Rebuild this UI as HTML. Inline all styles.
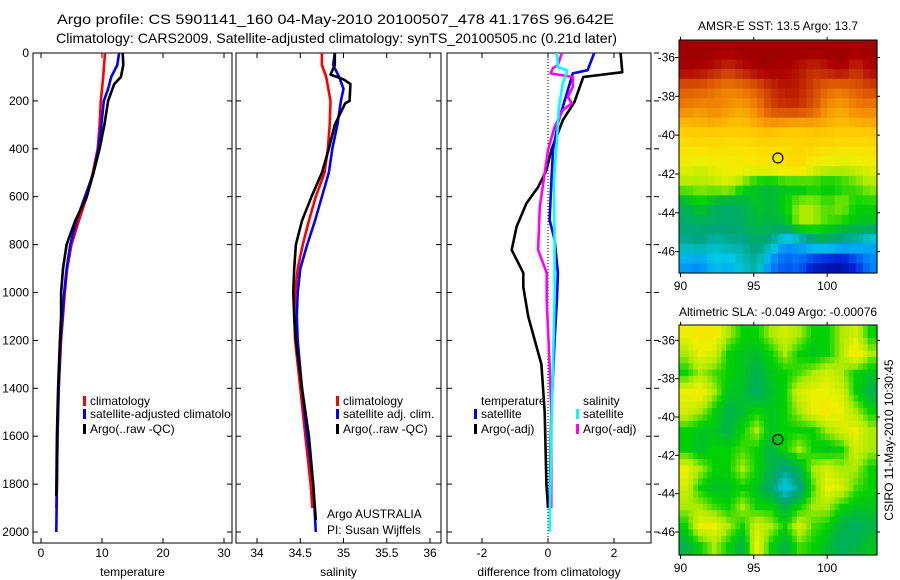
<!DOCTYPE html>
<html><head><meta charset="utf-8">
<style>
html,body{margin:0;padding:0;background:#fff;}
svg{display:block;font-family:"Liberation Sans",sans-serif;}
text{font-size:12px;fill:#000;}
</style></head>
<body>
<svg id="fig" width="900" height="580" viewBox="0 0 900 580">
<text x="57" y="24" textLength="557" lengthAdjust="spacingAndGlyphs" style="font-size:14px">Argo profile: CS 5901141_160 04-May-2010 20100507_478 41.176S 96.642E</text>
<text x="56" y="43" textLength="561" lengthAdjust="spacingAndGlyphs" style="font-size:14px">Climatology: CARS2009. Satellite-adjusted climatology: synTS_20100505.nc (0.21d later)</text>
<text x="778" y="30" text-anchor="middle">AMSR-E SST: 13.5 Argo: 13.7</text>
<text x="778" y="316" text-anchor="middle">Altimetric SLA: -0.049 Argo: -0.00076</text>
<text transform="translate(893,440) rotate(-90)" text-anchor="middle">CSIRO 11-May-2010 10:30:45</text>
<text x="327" y="518">Argo AUSTRALIA</text>
<text x="327" y="534">PI: Susan Wijffels</text>
</svg>
<script>
// ---------- data ----------
const depthTicks=[0,200,400,600,800,1000,1200,1400,1600,1800,2000];
const tempTicks=[0,10,20,30];
const salTicks=[34,34.5,35,35.5,36];
const diffTicks=[-2,0,2];
const tClimDepth=[0,100,200,300,400,500,600,700,800,900,1000,1100,1200,1400,1600,1800,1900];
const tClimVal=[10.5,10.2,9.8,9.6,9.3,8.5,7.5,6.2,5.0,4.3,3.9,3.6,3.3,2.9,2.7,2.6,2.5];
const tSatDepth=[0,50,100,150,200,300,400,500,600,700,800,900,1000,1100,1200,1400,1600,1800,2000];
const tSatVal=[12.8,12.5,11.5,11,10.3,9.9,9.4,8.6,7.2,5.8,4.8,4.2,3.8,3.5,3.2,2.9,2.7,2.6,2.5];
const tArgoDepth=[0,50,100,130,200,300,400,500,600,700,800,900,1000,1100,1200,1400,1600,1850];
const tArgoVal=[13.4,13.5,13.1,12,11,10.4,9.6,8.6,7.5,5.6,4.2,3.6,3.3,3.3,3.1,2.8,2.6,2.5];
const sClimDepth=[0,50,100,200,300,400,500,600,700,800,900,1000,1100,1200,1400,1600,1800,1900];
const sClimVal=[34.75,34.75,34.8,34.85,34.84,34.82,34.78,34.68,34.6,34.53,34.47,34.44,34.43,34.44,34.5,34.56,34.62,34.64];
const sSatDepth=[0,50,100,150,200,300,400,500,600,700,800,900,1000,1100,1200,1400,1600,1800,2000];
const sSatVal=[34.9,34.88,34.95,35.0,34.97,34.93,34.87,34.83,34.75,34.67,34.58,34.5,34.47,34.46,34.47,34.52,34.58,34.65,34.68];
const sArgoDepth=[0,50,90,110,130,200,210,300,400,500,600,700,800,900,1000,1100,1200,1400,1600,1800,1950];
const sArgoVal=[34.9,34.9,34.85,35.0,35.08,35.07,35.02,34.9,34.83,34.75,34.63,34.52,34.45,34.43,34.42,34.43,34.45,34.52,34.6,34.65,34.68];
const dTArgoDepth=[0,80,100,205,280,405,490,560,627,725,822,918,977,1100,1300,1500,1800,1900];
const dTArgoVal=[2.2,2.25,1.07,0.8,0.45,0.1,-0.05,-0.3,-0.65,-0.95,-1.1,-0.75,-0.75,-0.6,-0.2,-0.1,-0.05,0];
const dTSatDepth=[0,72,85,155,293,405,543,697,780,918,1030,1200,1500,1900];
const dTSatVal=[1.4,1.2,0.75,0.6,0.3,0.15,0.1,0.05,0.2,0.3,0.27,0.2,0.1,0.05];
const dSSatDepth=[0,50,58,72,85,125,225,363,543,780,1030,1300,1600,2000];
const dSSatVal=[0.27,0.3,0.27,0.57,0.57,0.45,0.33,0.27,0.18,0.2,0.2,0.15,0.1,0.05];
const dSArgoDepth=[0,50,63,85,100,142,183,210,238,308,405,502,643,822,918,1030,1300,1500,1900];
const dSArgoVal=[0.42,0.3,0.15,0.08,0.75,0.75,0.6,0.72,0.45,0.2,0,-0.1,-0.25,-0.3,-0.04,-0.04,0.05,0.1,0.1];
const mapLonTicks=[90,95,100];
const mapLatTicks=[-36,-38,-40,-42,-44,-46];
const sstGrid=[
[0.97,0.97,0.97,0.96,0.97,0.97,0.97,0.97,0.97,0.97,0.97,0.97,0.96,0.97],
[0.96,0.95,0.93,0.9,0.93,0.96,0.96,0.95,0.93,0.9,0.93,0.96,0.9,0.95],
[0.85,0.85,0.82,0.8,0.82,0.85,0.9,0.93,0.92,0.88,0.83,0.82,0.85,0.88],
[0.8,0.78,0.8,0.78,0.76,0.8,0.88,0.9,0.9,0.86,0.78,0.76,0.8,0.8],
[0.72,0.73,0.74,0.72,0.72,0.74,0.75,0.73,0.72,0.74,0.74,0.72,0.73,0.74],
[0.65,0.66,0.66,0.65,0.65,0.66,0.67,0.66,0.68,0.68,0.67,0.66,0.66,0.66],
[0.6,0.58,0.6,0.62,0.62,0.63,0.63,0.65,0.68,0.6,0.58,0.57,0.58,0.6],
[0.55,0.55,0.56,0.58,0.52,0.47,0.46,0.48,0.47,0.5,0.48,0.5,0.52,0.55],
[0.44,0.5,0.44,0.42,0.43,0.48,0.46,0.5,0.55,0.55,0.52,0.55,0.5,0.5],
[0.42,0.42,0.42,0.42,0.43,0.46,0.45,0.46,0.55,0.55,0.52,0.5,0.48,0.47],
[0.38,0.4,0.36,0.38,0.38,0.42,0.38,0.28,0.3,0.38,0.4,0.36,0.35,0.3],
[0.28,0.26,0.32,0.3,0.35,0.38,0.25,0.2,0.22,0.12,0.08,0.07,0.15,0.25]];
const slaGrid=[
[0.6,0.63,0.62,0.55,0.5,0.5,0.55,0.58,0.55,0.5,0.5,0.55,0.58,0.5],
[0.55,0.6,0.58,0.5,0.48,0.47,0.5,0.55,0.5,0.48,0.5,0.55,0.63,0.55],
[0.5,0.55,0.52,0.5,0.48,0.44,0.48,0.5,0.52,0.55,0.58,0.55,0.5,0.48],
[0.6,0.62,0.55,0.48,0.47,0.43,0.47,0.5,0.58,0.6,0.6,0.58,0.5,0.45],
[0.58,0.55,0.5,0.45,0.47,0.5,0.48,0.5,0.55,0.6,0.62,0.6,0.55,0.5],
[0.5,0.48,0.48,0.45,0.5,0.55,0.48,0.5,0.5,0.5,0.55,0.58,0.6,0.55],
[0.5,0.47,0.5,0.5,0.52,0.5,0.45,0.5,0.55,0.5,0.48,0.5,0.58,0.55],
[0.6,0.55,0.5,0.5,0.55,0.5,0.45,0.4,0.45,0.55,0.58,0.55,0.55,0.5],
[0.58,0.5,0.47,0.48,0.5,0.48,0.42,0.32,0.4,0.52,0.6,0.58,0.52,0.5],
[0.55,0.55,0.52,0.5,0.55,0.5,0.5,0.45,0.5,0.55,0.55,0.5,0.48,0.48],
[0.5,0.6,0.6,0.55,0.5,0.58,0.55,0.5,0.58,0.52,0.5,0.45,0.43,0.45],
[0.45,0.5,0.55,0.5,0.45,0.6,0.5,0.45,0.52,0.5,0.47,0.43,0.45,0.48]];
const floatLon=96.642, floatLat=-41.176;

// ---------- helpers ----------
const NS='http://www.w3.org/2000/svg';
const svg=document.getElementById('fig');
function mk(tag,attrs,parent){const e=document.createElementNS(NS,tag);for(const k in attrs)e.setAttribute(k,attrs[k]);(parent||svg).appendChild(e);return e;}
function lin(d0,d1,r0,r1){return v=>r0+(v-d0)*(r1-r0)/(d1-d0);}
const yDepth=lin(0,2000,53,532);
const PT=53,PB=543;
const panels=[
 {name:'temperature',x0:33,x1:232,sx:lin(0,30,41,224),ticks:tempTicks,label:'temperature'},
 {name:'salinity',x0:236,x1:441,sx:lin(34,36,257,430),ticks:salTicks,label:'salinity'},
 {name:'difference',x0:447,x1:651,sx:lin(-2,2,482,614),ticks:diffTicks,label:'difference from climatology'}];
panels.forEach((p,pi)=>{
  const g=mk('g',{});
  
  
  const r=mk('rect',{x:p.x0,y:PT,width:p.x1-p.x0,height:PB-PT,fill:'none',stroke:'#000','stroke-width':1},g);
  
  
  p.ticks.forEach(t=>{
    const x=p.sx(t);
    mk('line',{x1:x,x2:x,y1:PB,y2:PB-5,stroke:'#000'},g);
    mk('line',{x1:x,x2:x,y1:PT,y2:PT+5,stroke:'#000'},g);
    const tx=mk('text',{x:x,y:PB+14,'text-anchor':'middle'},g);tx.textContent=t;
    
    
  });
  const lb=mk('text',{x:(p.x0+p.x1)/2,y:PB+33,'text-anchor':'middle'},g);lb.textContent=p.label;
  
  
  depthTicks.forEach(d=>{
    const y=yDepth(d);
    mk('line',{x1:p.x0,x2:p.x0+5,y1:y,y2:y,stroke:'#000'},g);
    mk('line',{x1:p.x1,x2:p.x1-5,y1:y,y2:y,stroke:'#000'},g);
    if(pi==2) mk('line',{x1:p.x1+3,x2:p.x1+8,y1:y,y2:y,stroke:'#000'},g);
    if(pi==0){const t=mk('text',{x:p.x0-4,y:y+4,'text-anchor':'end'},g);t.textContent=d;
      
      }
  });
});
function profile(depths,vals,sx,color,name){
  const pts=depths.map((d,i)=>sx(vals[i]).toFixed(1)+','+yDepth(d).toFixed(1)).join(' ');
  const l=mk('polyline',{points:pts,fill:'none',stroke:color,'stroke-width':2.6,'stroke-linejoin':'round'});
  
  
}
const P=panels;
const z=mk('line',{x1:P[2].sx(0),x2:P[2].sx(0),y1:PT,y2:PB,stroke:'#000','stroke-dasharray':'1,2'});


profile(tClimDepth,tClimVal,P[0].sx,'#f00','temp-climatology-line');
profile(tSatDepth,tSatVal,P[0].sx,'#00f','temp-satellite-line');
profile(tArgoDepth,tArgoVal,P[0].sx,'#000','temp-argo-line');
profile(sClimDepth,sClimVal,P[1].sx,'#f00','sal-climatology-line');
profile(sSatDepth,sSatVal,P[1].sx,'#00f','sal-satellite-line');
profile(sArgoDepth,sArgoVal,P[1].sx,'#000','sal-argo-line');
profile(dTArgoDepth,dTArgoVal,P[2].sx,'#000','diff-temp-argo-line');
profile(dTSatDepth,dTSatVal,P[2].sx,'#00f','diff-temp-satellite-line');
profile(dSArgoDepth,dSArgoVal,P[2].sx,'#f0f','diff-sal-argo-line');
profile(dSSatDepth,dSSatVal,P[2].sx,'#0ff','diff-sal-satellite-line');
// legends
function legend(x,y,color,label,name){
  if(color){const b=mk('rect',{x:x,y:y-9,width:3,height:10,fill:color});
    
    }
  const t=mk('text',{x:x+7,y:y});t.textContent=label;
  
  
  return t;
}
const clip=mk('clipPath',{id:'c1'});mk('rect',{x:33,y:53,width:199,height:490},clip);
legend(83,405,'#f00','climatology','legend-temp-climatology');
const ls=legend(83,418,'#00f','satellite-adjusted climatology','legend-temp-satellite');ls.setAttribute('clip-path','url(#c1)');
legend(83,433,'#000','Argo(..raw -QC)','legend-temp-argo');
legend(336,405,'#f00','climatology','legend-sal-climatology');
legend(336,418,'#00f','satellite adj. clim.','legend-sal-satellite');
legend(336,433,'#000','Argo(..raw -QC)','legend-sal-argo');
legend(474,405,null,'temperature','legend-diff-temperature-header');
legend(474,418,'#00f','satellite','legend-diff-temp-satellite');
legend(474,433,'#000','Argo(-adj)','legend-diff-temp-argo');
legend(576,405,null,'salinity','legend-diff-salinity-header');
legend(576,418,'#0ff','satellite','legend-diff-sal-satellite');
legend(576,433,'#f0f','Argo(-adj)','legend-diff-sal-argo');
// maps
const stops=[[0,0,0,128],[0.15,0,40,220],[0.25,0,130,255],[0.33,0,200,230],[0.4,0,165,130],[0.46,0,185,60],[0.5,0,210,0],[0.55,170,235,0],[0.6,235,240,0],[0.65,250,225,0],[0.72,255,200,0],[0.8,240,130,0],[0.88,210,70,0],[0.95,170,0,0],[1,140,0,0]];
function cmap(v){v=Math.max(0,Math.min(1,v));for(let i=1;i<stops.length;i++){if(v<=stops[i][0]){const a=stops[i-1],b=stops[i],f=(v-a[0])/(b[0]-a[0]);return 'rgb('+[1,2,3].map(k=>Math.round(a[k]+f*(b[k]-a[k]))).join(',')+')';}}return 'rgb(140,0,0)';}
function sample(grid,r,c){ // bilinear in cell-center coordinates
  const nr=grid.length,nc=grid[0].length;
  r=Math.max(0,Math.min(nr-1,r));c=Math.max(0,Math.min(nc-1,c));
  const r0=Math.floor(r),c0=Math.floor(c),r1=Math.min(nr-1,r0+1),c1=Math.min(nc-1,c0+1),fr=r-r0,fc=c-c0;
  return grid[r0][c0]*(1-fr)*(1-fc)+grid[r0][c1]*(1-fr)*fc+grid[r1][c0]*fr*(1-fc)+grid[r1][c1]*fr*fc;
}
function drawMap(grid,top,bottom,latTop,latBot,name,sub){
  const L=679,R=877,lon0=89.9,lon1=103.4;
  const sx=lin(lon0,lon1,L,R), sy=lin(latTop,latBot,top,bottom);
  const g=mk('g',{});
  
  
  const nr=grid.length*sub,nc=grid[0].length*sub;
  const dlon=(lon1-lon0)/nc, dlat=(latTop-latBot)/nr;
  for(let i=0;i<nr;i++)for(let j=0;j<nc;j++){
    const v=sub==1?grid[i][j]:sample(grid,(i+0.5)/sub-0.5,(j+0.5)/sub-0.5);
    const x0=sx(lon0+j*dlon),x1=sx(lon0+(j+1)*dlon),y0=sy(latTop-i*dlat),y1=sy(latTop-(i+1)*dlat);
    const c=mk('rect',{x:x0,y:y0,width:x1-x0+0.6,height:y1-y0+0.6,fill:cmap(v)},g);
    
    
  }
  mk('rect',{x:L,y:top,width:R-L,height:bottom-top,fill:'none',stroke:'#000'},g);
  mapLonTicks.forEach(t=>{const x=sx(t);
    mk('line',{x1:x,x2:x,y1:bottom,y2:bottom+4,stroke:'#000'},g);
    mk('line',{x1:x,x2:x,y1:top,y2:top-3,stroke:'#000'},g);
    const tx=mk('text',{x:x,y:bottom+17,'text-anchor':'middle'},g);tx.textContent=t;
    
    });
  mapLatTicks.forEach(t=>{const y=sy(t);
    mk('line',{x1:L,x2:L-4,y1:y,y2:y,stroke:'#000'},g);
    mk('line',{x1:R,x2:R+3,y1:y,y2:y,stroke:'#000'},g);
    const tx=mk('text',{x:L-4,y:y+4,'text-anchor':'end'},g);tx.textContent=t;
    
    });
  const c=mk('circle',{cx:sx(floatLon),cy:sy(floatLat),r:5,fill:'none',stroke:'#000','stroke-width':1.2},g);
  
  
}
drawMap(sstGrid,40,273,-35.1,-47.1,'sst-map',2);
drawMap(slaGrid,325,555,-35.2,-47.2,'sla-map',3);
</script>
</body></html>
